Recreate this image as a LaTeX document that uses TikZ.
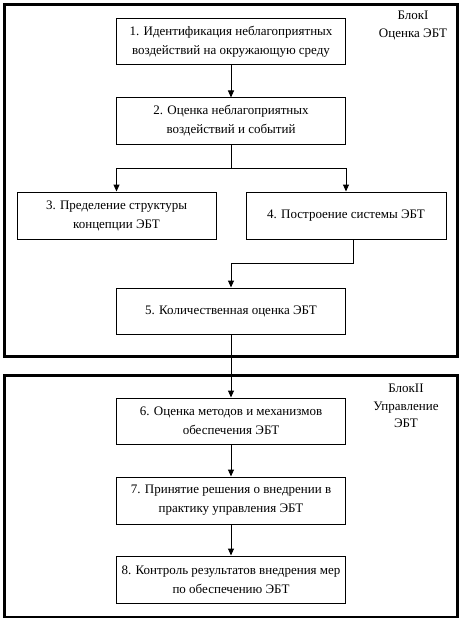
\documentclass[tikz,border=0pt]{standalone}
\usepackage{fontspec}
\setmainfont{Liberation Serif}
\usetikzlibrary{arrows.meta}

\tikzstyle{box} = [draw, line width=1pt, minimum width=229pt, minimum height=46pt, align=center, inner sep=0pt, font=\fontsize{13}{19}\selectfont]
\tikzstyle{line} = [line width=1pt]
\tikzstyle{arw} = [line width=1pt, -{Triangle[length=7pt,width=6pt]}]
\tikzstyle{frame} = [line width=2.6pt]
\tikzstyle{lbl} = [align=center, inner sep=0pt, font=\fontsize{13}{17.5}\selectfont]

\begin{document}
\begin{tikzpicture}[x=1pt,y=-1pt]
\useasboundingbox (0,0) rectangle (462,623);

\draw [frame] (4.5,4.5) rectangle (457.5,356.5);
\draw [frame] (4.5,375.5) rectangle (457.5,617);

\node [lbl] (blk1) at (413,25.5) {БлокI\\Оценка ЭБТ};
\node [lbl] (blk2) at (406,406) {БлокII\\Управление\\ЭБТ};

\node [box] (b1) at (231,41.5) {1. Идентификация неблагоприятных\\воздействий на окружающую среду};
\node [box] (b2) at (231,121) {2. Оценка неблагоприятных\\воздействий и событий};
\node [box, minimum width=199pt, minimum height=47pt] (b3) at (116.5,215.5) {3. Пределение структуры\\концепции ЭБТ};
\node [box, minimum width=200pt, minimum height=47pt] (b4) at (346,215.5) {4. Построение системы ЭБТ};
\node [box] (b5) at (231,311) {5. Количественная оценка ЭБТ};
\node [box] (b6) at (231,421) {6. Оценка методов и механизмов\\обеспечения ЭБТ};
\node [box, minimum height=47pt] (b7) at (231,500.5) {7. Принятие решения о внедрении в\\практику управления ЭБТ};
\node [box, minimum height=47pt] (b8) at (231,579.5) {8. Контроль результатов внедрения мер\\по обеспечению ЭБТ};

\coordinate (split) at (231,168);
\coordinate (join) at (231,263);

\draw [arw] (b1) -- (b2);
\draw [line] (b2) -- (split);
\draw [arw] (split) -| (b3);
\draw [arw] (split) -| (b4);
\draw [arw] ([xshift=7pt]b4.south) |- (join) -- (b5);
\draw [arw] (b5) -- (b6);
\draw [arw] (b6) -- (b7);
\draw [arw] (b7) -- (b8);

\end{tikzpicture}
\end{document}
